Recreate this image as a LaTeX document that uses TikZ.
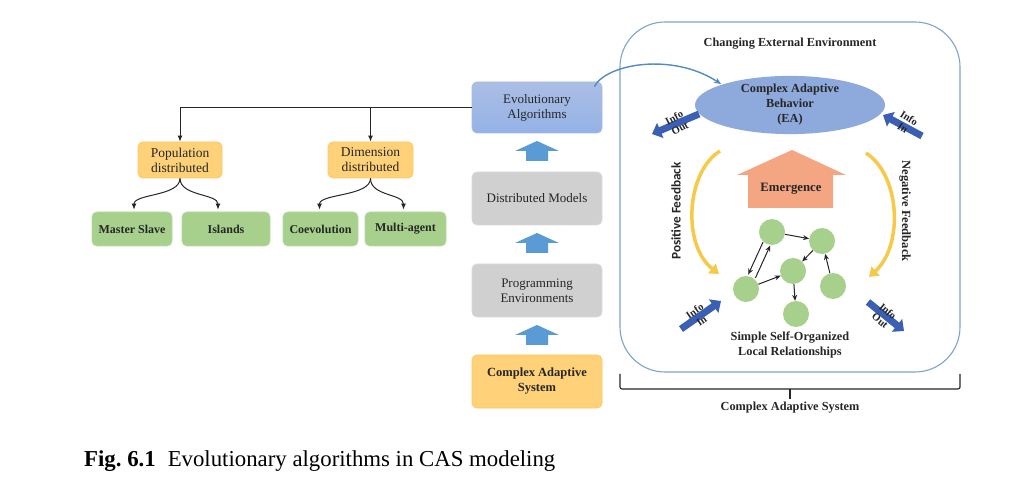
\documentclass[tikz,border=0pt]{standalone}
\usepackage{fontspec}
\setmainfont{Liberation Serif}
\newfontfamily\sansb{Carlito}
\usetikzlibrary{arrows.meta,shapes.geometric,calc}
\definecolor{eablue}{HTML}{8EA9DB}
\definecolor{eaborder}{HTML}{A7B9E4}
\definecolor{graybox}{HTML}{D0D0D0}
\definecolor{grayborder}{HTML}{DADADA}
\definecolor{yelbox}{HTML}{FFD27A}
\definecolor{yelborder}{HTML}{F9C95F}
\definecolor{grnbox}{HTML}{A8D08D}
\definecolor{grnborder}{HTML}{B6D9A0}
\definecolor{arrblue}{HTML}{5B9BD5}
\definecolor{infoblue}{HTML}{3B5FB5}
\definecolor{panelline}{HTML}{7FA3CF}
\definecolor{emgorange}{HTML}{F4A582}
\definecolor{fbyellow}{HTML}{F7C948}
\definecolor{txt}{HTML}{262626}
\tikzset{
  boxbase/.style={rounded corners=5pt, align=center, text=txt, line width=0.8pt, inner sep=1pt},
  eabox/.style={boxbase, draw=eaborder, top color=eablue!75, bottom color=eablue!105!black, minimum width=130, minimum height=51, font=\fontsize{13}{15}\selectfont},
  graystep/.style={boxbase, draw=grayborder, fill=graybox, minimum width=130, minimum height=53, font=\fontsize{13}{15}\selectfont},
  yelstep/.style={boxbase, draw=yelborder, fill=yelbox, minimum width=130, minimum height=53, font=\bfseries\fontsize{12.5}{15}\selectfont},
  ybox/.style={boxbase, draw=yelborder, fill=yelbox, minimum height=36, font=\fontsize{13.5}{15}\selectfont},
  gbox/.style={boxbase, draw=grnborder, fill=grnbox, minimum height=34, font=\bfseries\fontsize{12}{14}\selectfont},
  tree/.style={draw=black!85, line width=1pt, -{Latex[length=6pt,width=5pt]}},
  uparr/.pic={\fill[arrblue] (-11,10)--(-11,0)--(-22,0)--(0,-10)--(22,0)--(11,0)--(11,10)--cycle;},
  ptxt/.style={font=\bfseries\fontsize{12.3}{15}\selectfont, text=txt, align=center},
  cell/.style={circle, fill=grnbox, minimum size=26, inner sep=0pt},
  net/.style={draw=black!85, line width=1pt, -{Stealth[length=6pt,width=5pt]}},
  infoarr/.style={draw=infoblue, line width=7pt, -{Triangle[length=9pt,width=16pt]}},
  infotxt/.style={font=\bfseries\fontsize{10.5}{12}\selectfont, text=txt, inner sep=0pt, align=center},
  fb/.style={draw=fbyellow, line width=3.5pt, -{Triangle[length=9pt,width=12pt]}},
}
\begin{document}
\begin{tikzpicture}[x=1pt,y=-1pt]
\useasboundingbox[fill=white] (0,0) rectangle (1034,494);

% ---- left hierarchy ----
\node[eabox] (ea) at (537,107.5) {Evolutionary\\Algorithms};
\node[graystep] (dm) at (537,198.5) {Distributed Models};
\node[graystep] (pe) at (537,290.5) {Programming\\Environments};
\node[yelstep] (cas) at (537,381.5) {Complex Adaptive\\System};
\pic at (537,151) {uparr};
\pic at (537,243) {uparr};
\pic at (537,335) {uparr};

\node[ybox, minimum width=84] (pop) at (180,160) {Population\\distributed};
\node[ybox, minimum width=85] (dim) at (370.5,160) {Dimension\\distributed};
\node[gbox, minimum width=80] (ms) at (132,229) {Master Slave};
\node[gbox, minimum width=88] (isl) at (226,229) {Islands};
\node[gbox, minimum width=75] (coe) at (320.5,229) {Coevolution};
\node[gbox, minimum width=81] (mul) at (405.5,229) {Multi-agent};

\draw[tree] (ea.west) -- (pop.north |- ea.west) -- (pop.north);
\draw[tree] (dim.north |- ea.west) -- (dim.north);
\draw[tree] (pop.south) .. controls +(0,18) and +(0,-16) .. ($(ms.north)+(2,-2)$);
\draw[tree] (pop.south) .. controls +(0,18) and +(0,-16) .. ($(isl.north)+(-8,-2)$);
\draw[tree] (dim.south) .. controls +(0,18) and +(0,-16) .. ($(coe.north)+(-1,-2)$);
\draw[tree] (dim.south) .. controls +(0,18) and +(0,-16) .. ($(mul.north)+(-2,-2)$);

% ---- right panel ----
\draw[panelline, line width=1.1pt, rounded corners=45pt] (620,22) rectangle (960,372);
\node[ptxt] (env) at (790,44) {Changing External Environment};
\node[ellipse, fill=eablue, minimum width=190, minimum height=50, inner sep=0pt, ptxt] (cab) at (790,105) {Complex Adaptive\\Behavior\\(EA)};
\coordinate (cabin) at (721,84);
\draw[draw=arrblue!90!black, line width=1.4pt, -{Stealth[length=7pt,width=6pt]}] ($(ea.north east)+(-8,5)$) .. controls (606,64) and (672,52) .. (cabin);

% emergence
\fill[emgorange] (792,150) -- (846,175) -- (833,175) -- (833,208) -- (748,208) -- (748,175) -- (737,175) -- cycle;
\node[ptxt, font=\bfseries\fontsize{12.8}{15}\selectfont] (emg) at (791,189) {Emergence};

% feedback
\draw[fb] (720,151) .. controls (686,172) and (682,245) .. (719,274);
\draw[fb] (866,153) .. controls (900,175) and (904,245) .. (869,277);
\node[font=\sansb\bfseries\fontsize{13.2}{14}\selectfont, text=txt, rotate=90] (pf) at (676,211) {Positive Feedback};
\node[ptxt, font=\bfseries\fontsize{12.5}{14}\selectfont, rotate=-90] (nf) at (905,211) {Negative Feedback};

% network
\node[cell] (c1) at (772,232) {};
\node[cell] (c2) at (822,241) {};
\node[cell] (c3) at (793,271) {};
\node[cell] (c4) at (746,289) {};
\node[cell] (c5) at (833,286) {};
\node[cell] (c6) at (796,314) {};
\draw[net] (c1) -- (c2);
\draw[net] (c2) -- (c3);
\draw[net] (c5) -- (c2);
\draw[net] (c4) -- (c3);
\draw[net] (c3) -- (c6);
\draw[net] ($(c1)!13pt!(c4)+(-3.6,-1.7)$) -- ($(c4)!14pt!(c1)+(-3.6,-1.7)$);
\draw[net] ($(c4)!14pt!(c1)+(3.6,1.7)$) -- ($(c1)!13pt!(c4)+(3.6,1.7)$);

\node[ptxt] (ssol) at (790,345) {Simple Self-Organized\\Local Relationships};

% info arrows
\coordinate (io1a) at (699,114); \coordinate (io1b) at (652,134);
\draw[infoarr] (io1a) -- (io1b);
\node[infotxt, rotate=28] (t1) at (677,123) {Info\\Out};
\coordinate (ii1a) at (922,136); \coordinate (ii1b) at (883,115);
\draw[infoarr] (ii1a) -- (ii1b);
\node[infotxt, rotate=-32] (t2) at (906,123) {Info\\In};
\coordinate (ii2a) at (681,329); \coordinate (ii2b) at (721,301);
\draw[infoarr] (ii2a) -- (ii2b);
\node[infotxt, rotate=35] (t3) at (698,316) {Info\\In};
\coordinate (io2a) at (868,302); \coordinate (io2b) at (904,331);
\draw[infoarr] (io2a) -- (io2b);
\node[infotxt, rotate=-40] (t4) at (884,316) {Info\\Out};

% bracket
\draw[black!85, line width=1.1pt, rounded corners=2pt] (620,374) -- (620,389) -- (960,389) -- (960,374);
\draw[black!85, line width=1.1pt] (790,389) -- (790,399);
\node[ptxt] (casl) at (790,408) {Complex Adaptive System};

% caption
\node[anchor=base west, inner sep=0pt, font=\fontsize{22.8}{26}\selectfont] (cap) at (84,466) {\textbf{Fig.~6.1}\hspace{12pt}Evolutionary algorithms in CAS modeling};
\end{tikzpicture}
\end{document}
